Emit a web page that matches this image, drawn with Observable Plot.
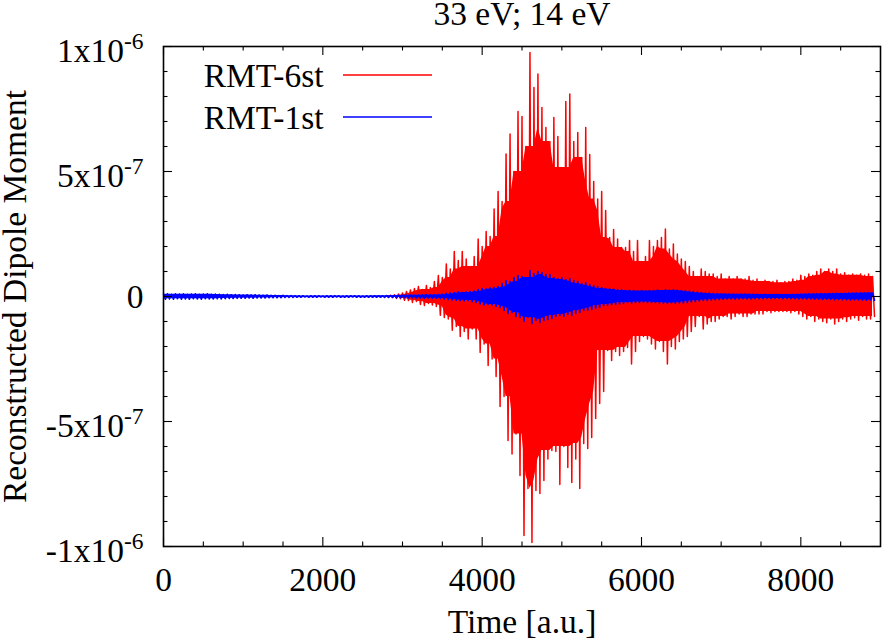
<!DOCTYPE html>
<html><head><meta charset="utf-8">
<script src="https://cdn.jsdelivr.net/npm/d3@7"></script>
<script src="https://cdn.jsdelivr.net/npm/@observablehq/plot@0.6"></script>
<style>
html,body{margin:0;padding:0;background:#fff;}
#chart svg{display:block;}
</style></head><body><div id="chart"></div>
<script>
// ---- text ----
const title = "33 eV; 14 eV";
const xLabel = "Time [a.u.]";
const yLabel = "Reconstructed Dipole Moment";
const seriesNames = ["RMT-6st", "RMT-1st"];
const seriesColors = ["#ff0000", "#0000ff"];

// ---- ticks ----
const xTicks = [0, 2000, 4000, 6000, 8000];
const xTickLabels = ["0", "2000", "4000", "6000", "8000"];
const xMinorTicks = [500, 1000, 1500, 2500, 3000, 3500, 4500, 5000, 5500, 6500, 7000, 7500, 8500];
const yTicks = [-1e-6, -5e-7, 0, 5e-7, 1e-6];
const yTickMantissa = ["-1x10", "-5x10", "0", "5x10", "1x10"];
const yTickExponent = ["-6", "-7", "", "-7", "-6"];
const yMinorTicks = [-9e-7, -8e-7, -7e-7, -6e-7, -4e-7, -3e-7, -2e-7, -1e-7, 1e-7, 2e-7, 3e-7, 4e-7, 6e-7, 7e-7, 8e-7, 9e-7];

// ---- data: oscillation peaks / troughs read per 50 a.u. (units of 1e-8) ----
const sampleStep = 50;
const valueUnit = 1e-8;
const redStart = 2800;
const redPeaks = [
  0.3,0.5,0.7,1.0,1.4,2.0,2.6,3.2,4.0,2.8,
  4.4,3.6,6.0,8.4,7.6,13,11,18,14.4,18,
  15,12,16,23,20,26,24,35,42,38,
  57,65,50,74,72,60,97.6,83.6,89,75.6,
  67.6,62,71.6,64,51.6,78,81,62,65.6,55.6,
  67.6,56.8,46,39,42,34.4,23.6,26.8,23,19.6,
  19.6,22.4,18,22.4,14,16,22.4,20,22.4,23.6,
  27,19,21,17,15,14,12,10,8,11,
  10,9,9,8,9,7,8,7,8,7,
  7,8,6.5,7,6,6.5,6,6,6.5,5.5,
  6,6,7,6.5,8.5,8,9,8.5,10,11,
  10,11,10,11,9,9.5,8.5,9,8.5,9,
  8.5,9,8
];
const redTroughs = [
  -0.3,-0.4,-0.8,-0.9,-1.5,-1.6,-2.4,-2.0,-3.2,-3.6,
  -2.8,-3.4,-4.0,-7.5,-8.4,-9,-13.5,-12,-16,-14,
  -17,-13,-17,-22.4,-19,-27.6,-25,-32,-44,-40,
  -57.6,-63,-55,-71.6,-95.6,-76.8,-98.4,-77.6,-78.8,-73.6,
  -65,-61.6,-62,-75.2,-60,-68.4,-74.4,-65,-76.8,-58.8,
  -60.8,-56.4,-48.8,-42.8,-38,-21.6,-25.6,-22,-23.6,-22,
  -20.4,-27,-22,-18,-16,-17,-19,-21,-18,-22,
  -27,-20,-21,-18,-17,-16,-14,-12,-8,-13,
  -11,-10,-10,-9,-8,-8,-9,-8,-7,-8,
  -8,-7,-7,-7,-7,-6,-6.5,-6,-6,-6,
  -6,-6.5,-6,-7,-8,-9,-8,-10,-9,-10,
  -10.5,-9,-11,-10,-9,-10,-9,-8.5,-9.5,-8,
  -9,-9,-8
];
const blueStart = 0;
const bluePeaks = [
  1.0,1.1,0.9,1.1,1.0,1.1,0.9,1.0,1.1,0.9,1.0,1.1,0.9,1.0,0.9,0.8,0.9,
  0.7,0.8,0.7,0.6,0.7,0.6,0.7,0.6,0.5,0.6,0.5,0.5,0.4,0.5,0.4,0.4,
  0.3,0.3,0.3,0.2,0.3,0.3,0.3,0.2,0.3,0.3,0.3,0.3,0.2,0.3,0.3,0.3,0.3,0.2,0.3,0.3,0.3,0.3,0.3,0.4,
  0.4,0.4,0.5,0.5,0.5,0.6,0.5,0.6,0.6,0.7,0.6,0.7,0.8,0.9,
  1.2,1.4,1.6,1.8,1.6,1.8,2.0,2.2,
  2.8,3.2,3.0,3.4,3.6,4.0,
  5.2,6.4,6.0,
  7.6,8.4,8.0,7.6,
  10.4,9.2,10.0,
  9.6,8.8,8.8,
  7.6,7.2,7.6,6.8,7.2,6.4,6.0,
  5.2,5.6,4.8,4.4,4.0,
  3.6,3.2,3.2,3.0,2.8,2.8,
  2.4,2.6,2.4,2.2,2.4,2.2,2.4,
  2.4,2.6,2.4,2.8,2.6,2.8,2.6,2.4,2.4,2.2,2.0,1.8,1.6,1.4,
  1.4,1.2,1.2,1.0,1.0,1.1,1.0,0.9,1.0,1.0,
  0.9,1.0,0.9,0.8,0.9,0.8,0.8,0.9,0.8,0.8,
  0.8,0.9,0.9,1.0,1.0,1.1,1.0,1.1,1.2,1.1,
  1.2,1.2,1.3,1.2,1.3,1.4,1.3,1.4,1.5,1.4,
  1.5,1.4
];
const blueTroughs = [
  -1.1,-1.0,-1.1,-0.9,-1.1,-1.0,-1.1,-0.9,-1.0,-1.1,-0.9,-1.0,-1.0,-0.9,-1.0,-0.9,-0.8,
  -0.8,-0.7,-0.7,-0.7,-0.6,-0.7,-0.6,-0.6,-0.6,-0.5,-0.5,-0.5,-0.5,-0.4,-0.4,-0.4,
  -0.3,-0.3,-0.2,-0.3,-0.3,-0.3,-0.2,-0.3,-0.3,-0.3,-0.2,-0.3,-0.3,-0.3,-0.2,-0.3,-0.3,-0.3,-0.3,-0.3,-0.3,-0.3,-0.4,-0.4,
  -0.4,-0.5,-0.5,-0.5,-0.6,-0.5,-0.6,-0.6,-0.7,-0.6,-0.7,-0.7,-0.8,-1.0,
  -1.2,-1.4,-1.5,-1.6,-1.7,-1.6,-2.0,-2.4,
  -3.0,-3.4,-3.2,-3.4,-4.0,-4.4,
  -5.6,-6.8,-6.4,
  -8.0,-8.4,-10.0,-8.4,
  -10.8,-9.6,-10.4,
  -9.6,-9.2,-8.8,
  -8.0,-7.6,-8.0,-7.2,-7.6,-6.8,-6.4,
  -5.6,-5.6,-5.2,-4.8,-4.4,
  -3.6,-3.6,-3.2,-3.2,-3.0,-2.8,
  -2.4,-2.6,-2.4,-2.4,-2.2,-2.4,-2.4,
  -2.4,-2.6,-2.6,-2.8,-2.6,-2.8,-2.6,-2.6,-2.4,-2.2,-2.0,-1.8,-1.6,-1.6,
  -1.4,-1.3,-1.2,-1.1,-1.0,-1.0,-1.1,-1.0,-0.9,-1.0,
  -1.0,-0.9,-0.9,-0.9,-0.8,-0.9,-0.8,-0.8,-0.9,-0.8,
  -0.9,-0.9,-1.0,-0.9,-1.0,-1.0,-1.1,-1.1,-1.2,-1.1,
  -1.2,-1.3,-1.2,-1.3,-1.3,-1.4,-1.3,-1.4,-1.4,-1.5,
  -1.4,-1.5
];

// Oscillating trace: each peak at t, its trough half a sample later
function trace(start, peaks, troughs) {
  const out = [];
  peaks.forEach((p, i) => {
    const t = start + i * sampleStep;
    out.push({t, v: p * valueUnit});
    out.push({t: t + sampleStep / 2, v: troughs[i] * valueUnit});
  });
  return out;
}
// Per-sample table (for the dense body under the spikes)
function samples(start, peaks, troughs) {
  return peaks.map((p, i) => ({t: start + i * sampleStep, peak: p * valueUnit, trough: troughs[i] * valueUnit}));
}
const red = trace(redStart, redPeaks, redTroughs);
const blue = trace(blueStart, bluePeaks, blueTroughs);
const redS = samples(redStart, redPeaks, redTroughs);
const blueS = samples(blueStart, bluePeaks, blueTroughs);

// ---- layout ----
const W = 882, H = 639, mt = 46, mb = 93, ml = 163, mr = 2;
const fw = W - ml - mr, fh = H - mt - mb;
const font = "'Liberation Serif','Times New Roman',Times,serif";
const fs = 33.5;
const majorLen = 9, minorLen = 4.5;
const tickStyle = {stroke: "#000", strokeWidth: 1.1};
const txt = {fontSize: fs, fill: "#000", lineAnchor: "middle"};
const expIdx = yTickExponent.map((e, i) => e ? i : -1).filter(i => i >= 0);

function body(S, color, k) {
  return [
    Plot.areaY(S, Plot.windowY({k, reduce: "min"}, {x: "t", y: "peak", fill: color})),
    Plot.areaY(S, Plot.windowY({k, reduce: "max"}, {x: "t", y: "trough", fill: color}))
  ];
}

const plot = Plot.plot({
  width: W, height: H,
  marginTop: mt, marginBottom: mb, marginLeft: ml, marginRight: mr,
  style: {fontFamily: font, fontSize: fs + "px", background: "#fff", color: "#000"},
  x: {domain: [0, 9000], axis: null},
  y: {domain: [-1e-6, 1e-6], axis: null},
  marks: [
    ...body(redS, seriesColors[0], 5),
    Plot.line(red, {x: "t", y: "v", stroke: seriesColors[0], strokeWidth: 1.5}),
    ...body(blueS, seriesColors[1], 5),
    Plot.line(blue, {x: "t", y: "v", stroke: seriesColors[1], strokeWidth: 1.6}),
    // ticks (inward, mirrored)
    Plot.tickX(xTicks, {x: d => d, insetTop: fh - majorLen, ...tickStyle}),
    Plot.tickX(xTicks, {x: d => d, insetBottom: fh - majorLen, ...tickStyle}),
    Plot.tickX(xMinorTicks, {x: d => d, insetTop: fh - minorLen, ...tickStyle}),
    Plot.tickX(xMinorTicks, {x: d => d, insetBottom: fh - minorLen, ...tickStyle}),
    Plot.tickY(yTicks, {y: d => d, insetRight: fw - majorLen, ...tickStyle}),
    Plot.tickY(yTicks, {y: d => d, insetLeft: fw - majorLen, ...tickStyle}),
    Plot.tickY(yMinorTicks, {y: d => d, insetRight: fw - minorLen, ...tickStyle}),
    Plot.tickY(yMinorTicks, {y: d => d, insetLeft: fw - minorLen, ...tickStyle}),
    Plot.frame({stroke: "#000", strokeWidth: 1.6}),
    // tick labels
    Plot.text(xTickLabels, {x: (d, i) => xTicks[i], text: d => d, frameAnchor: "bottom", dy: 579.5 - (H - mb), ...txt}),
    Plot.text(expIdx, {y: i => yTicks[i], text: i => yTickMantissa[i], frameAnchor: "left", textAnchor: "end", dx: -20, dy: 5, ariaDescription: "ytick-exp", ...txt}),
    Plot.text([2], {y: i => yTicks[i], text: i => yTickMantissa[i], frameAnchor: "left", textAnchor: "end", dx: -20, dy: 1, ...txt}),
    // titles
    Plot.text([title], {text: d => d, frameAnchor: "top", dy: 13.5 - mt, ...txt}),
    Plot.text([xLabel], {text: d => d, frameAnchor: "bottom", dy: 622 - (H - mb), ...txt}),
    Plot.text([yLabel], {text: d => d, frameAnchor: "left", textAnchor: "middle", rotate: -90, dx: 15 - ml, ...txt}),
    // legend labels
    Plot.text([seriesNames[0]], {text: d => d, frameAnchor: "top-left", textAnchor: "end", dx: 323 - ml, dy: 76 - mt, ...txt}),
    Plot.text([seriesNames[1]], {text: d => d, frameAnchor: "top-left", textAnchor: "end", dx: 323 - ml, dy: 117.5 - mt, ...txt})
  ]
});

// superscript exponents on y tick labels
const svg = d3.select(plot);
svg.selectAll('g[aria-description="ytick-exp"] text').each(function (_, k) {
  d3.select(this).append("tspan")
    .attr("font-size", 23.5)
    .attr("dy", -13)
    .text(yTickExponent[expIdx[k]]);
});
// legend sample lines
[75, 117].forEach((yy, i) => {
  svg.append("line")
    .attr("x1", 343).attr("x2", 432).attr("y1", yy).attr("y2", yy)
    .attr("stroke", seriesColors[i]).attr("stroke-width", 1.4);
});

document.getElementById("chart").appendChild(plot);
</script>
</body></html>
